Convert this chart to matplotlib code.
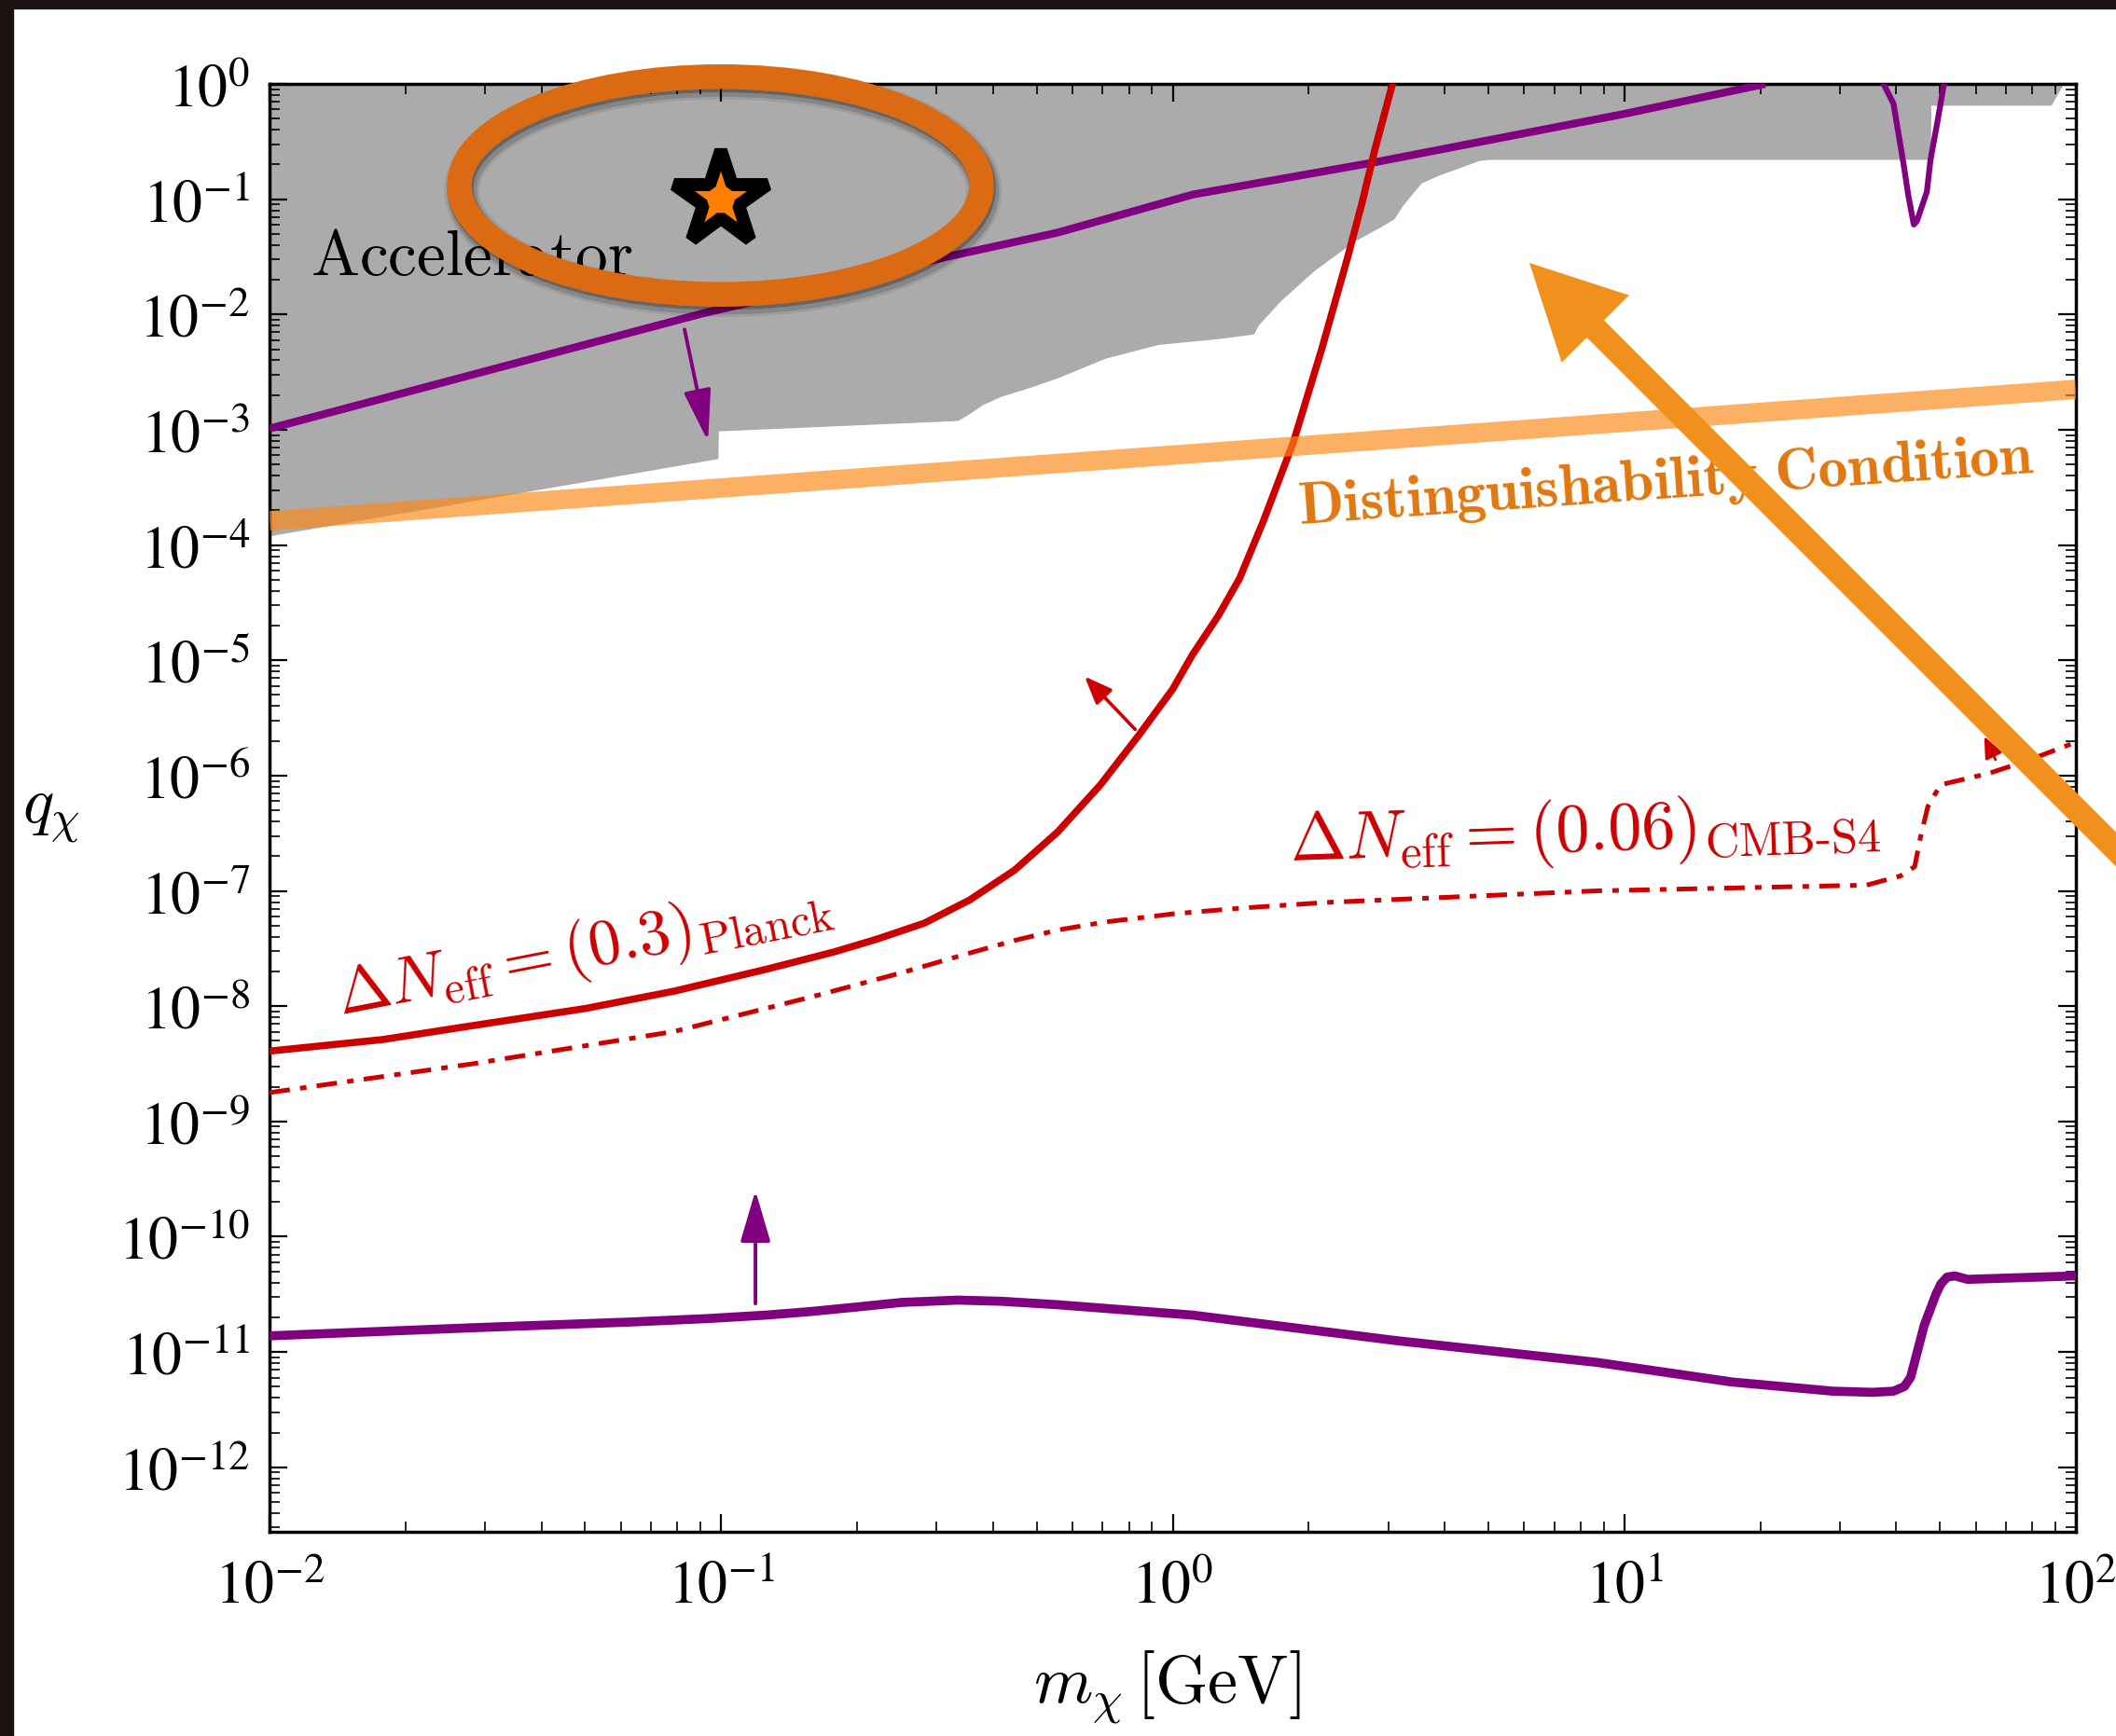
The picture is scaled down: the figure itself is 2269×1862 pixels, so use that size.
import numpy as np
import matplotlib
matplotlib.use("Agg")
import matplotlib.pyplot as plt
import matplotlib.patheffects as pe
from matplotlib.patches import Ellipse, Rectangle, FancyArrow
from matplotlib.transforms import Affine2D
from matplotlib.ticker import FixedLocator, LogLocator, NullFormatter
from matplotlib.mathtext import MathTextParser

plt.rcParams["mathtext.fontset"] = "cm"

# ---------------- data: log10(m_chi / GeV), log10(q_chi) ----------------
# lower edge of the accelerator-excluded region (filled up to q = 1)
accel_logm = [-2.0, -1.007, -1.006, -0.476, -0.45, -0.42, -0.38, -0.33, -0.255, -0.15,
              -0.032, 0.10, 0.179, 0.19, 0.239, 0.313, 0.40, 0.46, 0.49, 0.51, 0.55,
              0.59, 0.64, 0.678, 0.70, 1.678, 1.679, 1.945, 1.972, 2.0]
accel_logq = [-3.92, -3.25, -3.01, -2.92, -2.86, -2.78, -2.71, -2.65, -2.55, -2.38,
              -2.26, -2.21, -2.17, -2.09, -1.88, -1.62, -1.37, -1.24, -1.17, -1.05, -0.86,
              -0.79, -0.72, -0.665, -0.655, -0.655, -0.185, -0.185, 0.0, 0.0]

# upper bound (purple, arrow pointing down)
upper_logm = [-2.0, -1.04, -0.5, -0.255, 0.044, 0.447, 1.0, 1.312]
upper_logq = [-2.99, -1.99, -1.50, -1.29, -0.96, -0.68, -0.26, 0.0]

# resonance dip of the upper bound near m ~ 45 GeV
dip_logm = [1.574, 1.596, 1.619, 1.629, 1.641, 1.648, 1.670, 1.678, 1.693, 1.708]
dip_logq = [0.0, -0.17, -0.71, -0.97, -1.22, -1.19, -0.935, -0.66, -0.337, 0.0]

# lower bound (purple, arrow pointing up)
lower_logm = [-2.0, -1.552, -1.2, -1.029, -0.9, -0.804, -0.7, -0.6, -0.476, -0.38,
              -0.255, 0.044, 0.492, 0.939, 1.238, 1.462, 1.55, 1.596, 1.62, 1.634,
              1.664, 1.69, 1.701, 1.715, 1.732, 1.760, 2.0]
lower_logq = [-10.86, -10.79, -10.74, -10.71, -10.68, -10.65, -10.61, -10.57, -10.55, -10.56,
              -10.59, -10.68, -10.90, -11.09, -11.26, -11.34, -11.35, -11.34, -11.30, -11.22,
              -10.77, -10.50, -10.41, -10.35, -10.34, -10.37, -10.34]

# Delta N_eff = 0.3 (Planck)
planck_logm = [-2.0, -1.75, -1.552, -1.3, -1.104, -0.9, -0.75, -0.656, -0.55, -0.45,
               -0.35, -0.255, -0.16, -0.075, 0.0, 0.044, 0.10, 0.148, 0.20, 0.267,
               0.33, 0.387, 0.42, 0.447, 0.49]
planck_logq = [-8.39, -8.29, -8.17, -8.02, -7.87, -7.68, -7.53, -7.42, -7.28, -7.08,
               -6.82, -6.49, -6.08, -5.65, -5.25, -4.95, -4.62, -4.29, -3.80, -3.11,
               -2.30, -1.51, -1.02, -0.58, 0.05]

# Delta N_eff = 0.06 (CMB-S4)
cmbs4_logm = [-2.0, -1.55, -1.104, -0.8, -0.6, -0.45, -0.35, -0.255, -0.15, 0.0,
              0.15, 0.342, 0.939, 1.537, 1.612, 1.643, 1.655, 1.672, 1.70, 1.808,
              1.90, 2.0]
cmbs4_logq = [-8.75, -8.5, -8.22, -7.92, -7.71, -7.54, -7.43, -7.34, -7.27, -7.20,
              -7.15, -7.10, -7.00, -6.95, -6.87, -6.79, -6.55, -6.27, -6.08, -5.98,
              -5.86, -5.71]

# distinguishability condition band
dist_logm = [-2.0, 2.0]
dist_logq = [-3.79, -2.65]

# benchmark point
star_m = [0.1]
star_q = [0.1]

# direction arrows: (tail, head) in (log m, log q)
arrow_upper = [(-1.081, -2.13), (-1.029, -3.10)]
arrow_lower = [(-0.924, -10.58), (-0.924, -9.60)]
arrow_planck = [(-0.083, -5.60), (-0.195, -5.14)]
arrow_cmbs4 = [(1.822, -5.862), (1.797, -5.66)]

xtick_exps = [-2, -1, 0, 1, 2]
ytick_exps = list(range(0, -13, -1))


def lin(v):
    return 10.0 ** np.asarray(v, dtype=float)


# ---------------- figure ----------------
W, H, DPI = 2269, 1862, 100
fig = plt.figure(figsize=(W / DPI, H / DPI), dpi=DPI)
fig.patch.set_facecolor("white")
pix = Affine2D().scale(1, -1).translate(0, H)   # pixel coords, origin top-left

L, R, T, B = 289, 2226, 90, 1643
ax = fig.add_axes([L / W, 1 - B / H, (R - L) / W, (B - T) / H])
ax.set_xscale("log")
ax.set_yscale("log")
ax.set_xlim(1e-2, 1e2)
ax.set_ylim(10 ** -12.56, 1.0)

# excluded region
ax.fill_between(lin(accel_logm), lin(accel_logq), 1.0, color="#ABABAB", lw=0, zorder=1)

purple = "#800080"
red = "#CC0000"
ax.plot(lin(upper_logm), lin(upper_logq), color=purple, lw=6, zorder=3,
        solid_capstyle="butt", solid_joinstyle="round")
ax.plot(lin(dip_logm), lin(dip_logq), color=purple, lw=4.5, zorder=3)
ax.plot(lin(lower_logm), lin(lower_logq), color=purple, lw=7, zorder=3, solid_joinstyle="round")
ax.plot(lin(planck_logm), lin(planck_logq), color=red, lw=5.5, zorder=3, solid_joinstyle="round")
ax.plot(lin(cmbs4_logm), lin(cmbs4_logq), color=red, lw=3.6, zorder=3,
        linestyle=(0, (4.4, 2.2, 1.4, 2.2)))

ax.plot(lin(dist_logm), lin(dist_logq), color="#FC8916", alpha=0.67, lw=15,
        solid_capstyle="butt", zorder=4)


def direction_arrow(pts, color, lw, hl, hw):
    (x0, y0), (x1, y1) = pts
    ax.annotate("", xy=(10 ** x1, 10 ** y1), xytext=(10 ** x0, 10 ** y0),
                arrowprops=dict(arrowstyle=f"-|>,head_length={hl},head_width={hw}",
                                mutation_scale=20, lw=lw, color=color,
                                shrinkA=0, shrinkB=0), zorder=5)


direction_arrow(arrow_upper, purple, 2.8, 1.7, 0.45)
direction_arrow(arrow_lower, purple, 2.8, 1.7, 0.5)
direction_arrow(arrow_planck, red, 2.6, 0.9, 0.36)
direction_arrow(arrow_cmbs4, red, 2.0, 0.7, 0.3)

ax.plot(star_m, star_q, ls="none", marker="*", ms=76, mfc="#FF8000", mec="black",
        mew=10, zorder=6, clip_on=False)

# ---------------- labels inside the plot ----------------
ax.text(10 ** -1.909, 10 ** -1.658, r"$\mathrm{Accelerator}$", fontsize=50,
        ha="left", va="baseline", color="black", zorder=5)

ax.text(10 ** -1.843, 10 ** -8.07, r"$\Delta N_{\mathrm{eff}} = (0.3)_{\mathrm{Planck}}$",
        fontsize=50, color=red, rotation=11, rotation_mode="anchor",
        ha="left", va="baseline", zorder=5)

cmb_label = r"$\Delta N_{\mathrm{eff}} = (0.06)_{\text{CMB-S4}}$"
try:
    MathTextParser("agg").parse(cmb_label)
except Exception:
    cmb_label = r"$\Delta N_{\mathrm{eff}} = (0.06)_{\mathrm{CMB{-}S4}}$"
ax.text(10 ** 0.259, 10 ** -6.744, cmb_label, fontsize=52, color=red, rotation=2,
        rotation_mode="anchor", ha="left", va="baseline", zorder=5)

ax.text(10 ** 0.280, 10 ** -3.814, r"$\mathbf{Distinguishability\ Condition}$",
        fontsize=46, color="#E07810", rotation=4, rotation_mode="anchor",
        ha="left", va="baseline", zorder=5)

# ---------------- axes styling ----------------
ax.xaxis.set_major_locator(FixedLocator(lin(xtick_exps)))
ax.xaxis.set_minor_locator(LogLocator(base=10, subs=np.arange(2, 10), numticks=50))
ax.yaxis.set_major_locator(FixedLocator(lin(ytick_exps)))
ax.yaxis.set_minor_locator(LogLocator(base=10, subs=np.arange(2, 10), numticks=50))
ax.xaxis.set_minor_formatter(NullFormatter())
ax.yaxis.set_minor_formatter(NullFormatter())
ax.set_xticklabels([rf"$10^{{{e}}}$" for e in xtick_exps])
ax.set_yticklabels([rf"$10^{{{e}}}$" for e in ytick_exps])
for lab in ax.get_xticklabels() + ax.get_yticklabels():
    lab.set_math_fontfamily("stix")
    lab.set_fontsize(46)

ax.tick_params(which="both", direction="in", top=True, right=True, colors="black")
ax.tick_params(which="major", length=14, width=1.6)
ax.tick_params(which="minor", length=8, width=1.2)
ax.tick_params(axis="x", which="major", pad=20)
ax.tick_params(axis="y", which="major", pad=15)
for sp in ax.spines.values():
    sp.set_linewidth(2.5)

ax.set_ylabel(r"$q_\chi$", fontsize=50, rotation=0, ha="center", va="center")
ax.yaxis.set_label_coords(-0.121, 0.495)
ax.set_xlabel(r"$m_\chi\,[\mathrm{GeV}]$", fontsize=52, va="center")
ax.xaxis.set_label_coords(0.497, -0.1075)

# ---------------- highlight overlays ----------------
ring_lw = 26.5 * 72 / DPI
ring = Ellipse((772.5, 199), 560, 233.5, fill=False, edgecolor="#DB6A12",
               lw=ring_lw, transform=pix, zorder=20,
               path_effects=[pe.Stroke(offset=(2, -4), linewidth=ring_lw + 8, foreground="black", alpha=0.08),
                             pe.Stroke(offset=(2, -4), linewidth=ring_lw + 4, foreground="black", alpha=0.14),
                             pe.Stroke(offset=(1, -2), linewidth=ring_lw + 1, foreground="black", alpha=0.25),
                             pe.Normal()])
fig.add_artist(ring)

tip = (1640, 282)
tail = (2420, 1062)
pointer = FancyArrow(tail[0], tail[1], tip[0] - tail[0], tip[1] - tail[1], width=26,
                     head_width=102, head_length=100, length_includes_head=True,
                     color="#F0911E", lw=0, transform=pix, zorder=21)
fig.add_artist(pointer)

# dark frame on the top and left edges
fig.add_artist(Rectangle((0, 0), W, 9, transform=pix, color="#1a1111", zorder=30))
fig.add_artist(Rectangle((0, 0), 14, H, transform=pix, color="#1a1111", zorder=30))

fig.savefig("out.png", dpi=DPI)
